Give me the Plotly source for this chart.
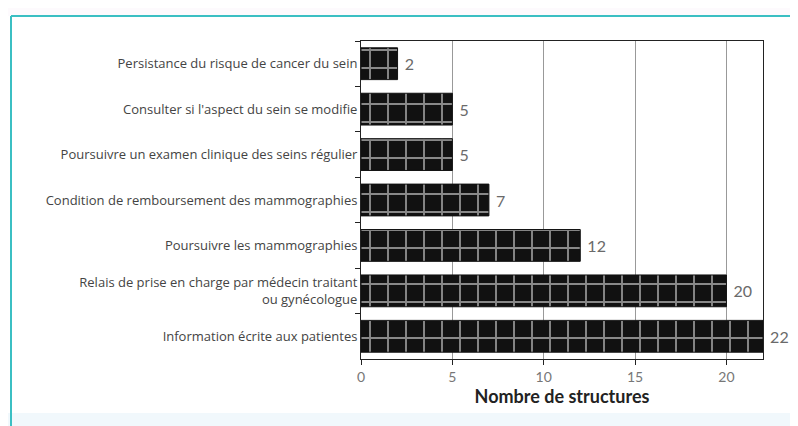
import plotly.graph_objects as go

categories = [
    "Persistance du risque de cancer du sein",
    "Consulter si l'aspect du sein se modifie",
    "Poursuivre un examen clinique des seins régulier",
    "Condition de remboursement des mammographies",
    "Poursuivre les mammographies",
    "Relais de prise en charge par médecin traitant<br>ou gynécologue",
    "Information écrite aux patientes",
]
values = [2, 5, 5, 7, 12, 20, 22]
x_ticks = [0, 5, 10, 15, 20]

# page body has an 8px margin, so the figure is drawn 8px smaller
W, H = 790, 418
ML, MR, MT, MB = 353, 35, 33, 67

fig = go.Figure()
fig.add_trace(go.Bar(
    x=values, y=categories, orientation="h",
    marker=dict(
        color="#111111",
        line=dict(color="#111111", width=1),
        pattern=dict(shape="+", fgcolor="white", bgcolor="#111111", size=18, solidity=0.2),
    ),
    text=[" " + str(v) for v in values], textposition="outside",
    textfont=dict(family="Lato", size=16, color="#6a6a6a"),
    cliponaxis=False, width=0.7,
))

fig.update_layout(
    width=W, height=H,
    margin=dict(l=ML, r=MR, t=MT, b=MB),
    paper_bgcolor="white", plot_bgcolor="white",
    showlegend=False,
    font=dict(family="Open Sans", color="#444444"),
    xaxis=dict(
        range=[0, 22], tickvals=x_ticks, showgrid=True, gridcolor="#999999", gridwidth=1,
        showline=True, linecolor="#222222", linewidth=1, mirror=True,
        ticks="outside", ticklen=5, tickcolor="#222222",
        tickfont=dict(family="Lato", size=14, color="#777777"),
        title=dict(text="<b>Nombre de structures</b>", font=dict(family="Lato", size=18, color="#222222"), standoff=2),
        zeroline=False,
    ),
    yaxis=dict(
        autorange="reversed", showline=True, linecolor="#222222", linewidth=1, mirror=True,
        ticks="outside", ticklen=5, tickcolor="#222222", tickson="boundaries",
        tickfont=dict(family="Open Sans", size=13, color="#444444"),
        showgrid=False,
    ),
)

pw, ph = W - ML - MR, H - MT - MB
def px(x):
    return (x - ML) / pw
def py(y):
    return (H - MB - y) / ph

fig.update_layout(shapes=[
    dict(type="rect", xref="paper", yref="paper", x0=px(-10), x1=px(W), y0=py(H + 10), y1=py(405),
         fillcolor="#f1f8fc", line=dict(width=0), layer="below"),
    dict(type="rect", xref="paper", yref="paper", x0=px(-10), x1=px(W), y0=py(8), y1=py(-10),
         fillcolor="#fdfafd", line=dict(width=0), layer="below"),
    dict(type="line", xref="paper", yref="paper", x0=px(3), x1=px(3), y0=py(8), y1=py(H + 10),
         line=dict(color="#3bbfc3", width=2)),
    dict(type="line", xref="paper", yref="paper", x0=px(3), x1=px(W), y0=py(8), y1=py(8),
         line=dict(color="#3bbfc3", width=2)),
])

fig.write_html("out.html")
